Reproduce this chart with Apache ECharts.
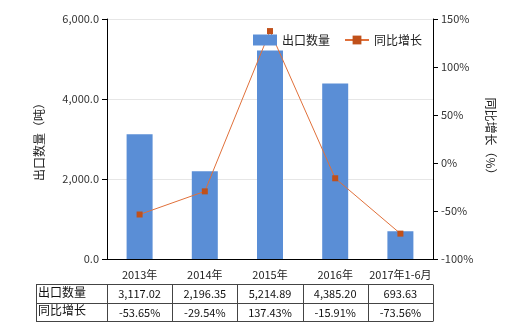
<!DOCTYPE html>
<html><head><meta charset="utf-8">
<script src="https://cdn.jsdelivr.net/npm/echarts@6/dist/echarts.min.js"></script>
<style>html,body{margin:0;padding:0;background:#fff}#c{width:520px;height:330px}</style>
</head><body><div id="c"></div>
<script>
const categories = ['2013年','2014年','2015年','2016年','2017年1-6月'];
const exportQty = [3117.02, 2196.35, 5214.89, 4385.20, 693.63];
const growth = [-53.65, -29.54, 137.43, -15.91, -73.56];
const qtyLabels = ['3,117.02','2,196.35','5,214.89','4,385.20','693.63'];
const growthLabels = ['-53.65%','-29.54%','137.43%','-15.91%','-73.56%'];
const rowNames = ['出口数量','同比增长'];
const seriesNames = ['出口数量','同比增长'];

const FONT = '"Microsoft YaHei","Noto Sans CJK SC",sans-serif';
const chart = echarts.init(document.getElementById('c'));
const G = {left:107, right:87, top:19, bottom:71};
const option = {
  animation:false,
  textStyle:{fontFamily:FONT},
  legend:{
    data:[{name:seriesNames[0],icon:'rect'},{name:seriesNames[1]}],
    left:248, top:29, itemWidth:24, itemHeight:11, itemGap:14,
    textStyle:{fontSize:12,color:'#222',fontFamily:FONT}
  },
  grid:G,
  xAxis:{
    type:'category', data:categories,
    axisLine:{lineStyle:{color:'#000'}},
    axisTick:{alignWithLabel:true,lineStyle:{color:'#000'}},
    axisLabel:{color:'#222',fontSize:11,margin:10,interval:0}
  },
  yAxis:[{
    type:'value', min:0, max:6000, interval:2000,
    name:'出口数量（吨）', nameLocation:'middle', nameGap:62, nameRotate:90,
    nameTextStyle:{fontSize:12,color:'#222'},
    axisLine:{show:true,lineStyle:{color:'#000'}},
    axisTick:{show:true,lineStyle:{color:'#000'}},
    axisLabel:{color:'#333',fontSize:11,formatter:v=>v.toLocaleString('en-US',{minimumFractionDigits:1,maximumFractionDigits:1})},
    splitLine:{lineStyle:{color:'#e6e6e6'}}
  },{
    type:'value', min:-100, max:150, interval:50, position:'right',
    name:'同比增长（%）', nameLocation:'middle', nameGap:52, nameRotate:-90,
    nameTextStyle:{fontSize:12,color:'#222'},
    axisLine:{show:true,lineStyle:{color:'#000'}},
    axisTick:{show:true,lineStyle:{color:'#000'}},
    axisLabel:{color:'#333',fontSize:11,formatter:'{value}%'},
    splitLine:{show:false}
  }],
  series:[{
    name:seriesNames[0], type:'bar', data:exportQty, barWidth:26,
    itemStyle:{color:'#5A8ED6'}
  },{
    name:seriesNames[1], type:'line', yAxisIndex:1, data:growth,
    symbol:'rect', symbolSize:6,
    lineStyle:{color:'#E0703A',width:1},
    itemStyle:{color:'#C0501A'}
  }]
};
chart.setOption(option);

// table below chart
const gx = [];
for (let i=0;i<categories.length;i++) gx.push(chart.convertToPixel({xAxisIndex:0}, categories[i]));
const step = gx.length>1 ? gx[1]-gx[0] : 65;
const tLeft = 36, tTop = 284, rowH = 18.5;
const colEdges = [tLeft, gx[0]-step/2];
for (let i=0;i<gx.length;i++) colEdges.push(gx[i]+step/2);
const tRight = colEdges[colEdges.length-1];
const els = [];
const ls = {stroke:'#444', lineWidth:1};
for (let r=0;r<=2;r++){
  const y = Math.round(tTop + r*rowH)+0.5;
  els.push({type:'line',shape:{x1:tLeft,y1:y,x2:tRight,y2:y},style:ls,silent:true});
}
for (const x of colEdges){
  const xx = Math.round(x)+0.5;
  els.push({type:'line',shape:{x1:xx,y1:Math.round(tTop)+0.5,x2:xx,y2:Math.round(tTop+2*rowH)+0.5},style:ls,silent:true});
}
const rows = [qtyLabels, growthLabels];
for (let r=0;r<2;r++){
  const cy = tTop + r*rowH + rowH/2;
  els.push({type:'text',style:{text:rowNames[r],x:tLeft+2,y:cy-1,textVerticalAlign:'middle',fontSize:12,fill:'#111',fontFamily:FONT}});
  for (let i=0;i<gx.length;i++){
    els.push({type:'text',style:{text:rows[r][i],x:gx[i],y:cy+1,textAlign:'center',textVerticalAlign:'middle',fontSize:11,fill:'#111',fontFamily:FONT}});
  }
}
chart.setOption({graphic:els});
</script></body></html>
